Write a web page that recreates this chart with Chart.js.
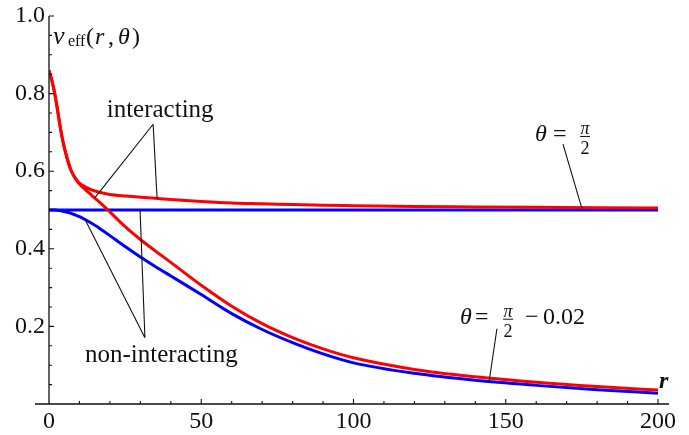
<!DOCTYPE html>
<html>
<head>
<meta charset="utf-8">
<script src="https://cdn.jsdelivr.net/npm/chart.js@4.4.1/dist/chart.umd.min.js"></script>
<style>
  html, body { margin: 0; padding: 0; background: #fff; }
  #wrap { width: 689px; height: 435px; }
</style>
</head>
<body>
<div id="wrap"><canvas id="c"></canvas></div>
<script>
const radii = [0, 1, 2, 3, 4, 5, 6, 7, 8, 9, 10, 12, 14, 16, 18, 20, 25, 30, 35, 40,
               50, 60, 70, 80, 90, 100, 120, 140, 160, 180, 200];
const interactingHalfPi = [0.86, 0.832, 0.795, 0.748, 0.70, 0.662, 0.632, 0.607, 0.59, 0.578, 0.569,
                           0.559, 0.552, 0.547, 0.543, 0.540, 0.536, 0.533, 0.530, 0.527,
                           0.522, 0.518, 0.516, 0.514, 0.512, 0.511, 0.509, 0.508, 0.507, 0.506, 0.505];
const interactingShifted = [0.86, 0.832, 0.795, 0.748, 0.70, 0.662, 0.632, 0.607, 0.59, 0.577, 0.567,
                            0.552, 0.538, 0.524, 0.51, 0.495, 0.457, 0.424, 0.394, 0.365,
                            0.306, 0.252, 0.207, 0.171, 0.142, 0.119, 0.089, 0.07, 0.056, 0.045, 0.036];
const freeShifted = [0.5, 0.5, 0.5, 0.499, 0.498, 0.496, 0.494, 0.492, 0.489, 0.486, 0.483,
                     0.475, 0.466, 0.456, 0.445, 0.434, 0.406, 0.379, 0.354, 0.33,
                     0.282, 0.233, 0.192, 0.158, 0.129, 0.106, 0.079, 0.061, 0.048, 0.037, 0.028];
const flatRadii = [0, 200];
const freeHalfPi = [0.5, 0.5];

const xTickValues = [0, 50, 100, 150, 200];
const yTickValues = [0.2, 0.4, 0.6, 0.8, 1.0];

const serif = '"Liberation Serif", "Times New Roman", serif';
const f = (style, size) => `${style} ${size}px ${serif}`;

function pts(xs, ys) {
  return xs.map((x, i) => ({ x: x, y: ys[i] }));
}

function line(data, color) {
  return {
    data: data,
    borderColor: color,
    borderWidth: 3,
    pointRadius: 0,
    fill: false,
    cubicInterpolationMode: 'monotone'
  };
}

// pointer lines from labels to curves, in data units
const pointers = [
  [[34.2, 0.721], [15.1, 0.532]],
  [[34.2, 0.721], [35.5, 0.529]],
  [[31.5, 0.171], [11.8, 0.476]],
  [[31.5, 0.171], [29.9, 0.501]],
  [[168.8, 0.670], [175.0, 0.504]],
  [[147.1, 0.194], [144.5, 0.056]]
];

function frac(ctx, cx, base) {
  ctx.font = f('italic', 18);
  ctx.textAlign = 'center';
  ctx.fillText('π', cx, base - 7);
  ctx.font = f('', 18);
  ctx.fillText('2', cx, base + 13);
  ctx.fillRect(cx - 5, base - 5, 10, 1);
  ctx.textAlign = 'left';
}

const overlay = {
  id: 'overlay',
  afterDraw(chart) {
    const ctx = chart.ctx, xs = chart.scales.x, ys = chart.scales.y;
    const X = v => xs.getPixelForValue(v), Y = v => ys.getPixelForValue(v);
    ctx.save();
    ctx.strokeStyle = '#111';
    ctx.fillStyle = '#111';
    ctx.lineWidth = 1.3;

    // axes, Mathematica style
    ctx.beginPath();
    ctx.moveTo(X(-4.6), Y(0)); ctx.lineTo(X(203.6), Y(0));
    ctx.moveTo(X(0), Y(0)); ctx.lineTo(X(0), Y(1));
    ctx.stroke();

    // inward ticks, minor every 10 / 0.05
    ctx.lineWidth = 1.1;
    ctx.beginPath();
    for (let r = 10; r <= 200; r += 10) {
      const len = r % 50 === 0 ? 5 : 3;
      ctx.moveTo(X(r), Y(0)); ctx.lineTo(X(r), Y(0) - len);
    }
    for (let i = 1; i <= 20; i++) {
      const len = i % 4 === 0 ? 5 : 3;
      ctx.moveTo(X(0), Y(i * 0.05)); ctx.lineTo(X(0) + len, Y(i * 0.05));
    }
    ctx.stroke();

    ctx.beginPath();
    pointers.forEach(p => {
      ctx.moveTo(X(p[0][0]), Y(p[0][1]));
      ctx.lineTo(X(p[1][0]), Y(p[1][1]));
    });
    ctx.stroke();

    ctx.textBaseline = 'alphabetic';
    ctx.textAlign = 'left';

    // axis label v_eff(r, θ)
    let x0 = X(1.3), y0 = Y(0.928);
    ctx.font = f('italic', 26); ctx.fillText('v', x0, y0);
    ctx.font = f('', 16); ctx.fillText('eff', x0 + 15, y0 + 2);
    ctx.font = f('', 24); ctx.fillText('(', x0 + 33, y0);
    ctx.font = f('italic', 24); ctx.fillText('r', x0 + 42, y0);
    ctx.font = f('', 24); ctx.fillText(',', x0 + 55, y0);
    ctx.font = f('italic', 24); ctx.fillText('θ', x0 + 65, y0);
    ctx.font = f('', 24); ctx.fillText(')', x0 + 79, y0);

    ctx.font = f('italic bold', 24);
    ctx.fillText('r', X(200.3), Y(0.041));

    ctx.font = f('', 25);
    ctx.textAlign = 'center';
    ctx.fillText('interacting', X(36.5), Y(0.739));
    ctx.fillText('non-interacting', X(36.9), Y(0.107));
    ctx.textAlign = 'left';

    // θ = π/2
    x0 = X(159.6); y0 = Y(0.678);
    ctx.font = f('italic', 24); ctx.fillText('θ', x0, y0);
    ctx.font = f('', 24); ctx.fillText('=', x0 + 18, y0);
    frac(ctx, x0 + 50, y0);

    // θ = π/2 − 0.02
    x0 = X(135); y0 = Y(0.207);
    ctx.font = f('italic', 24); ctx.fillText('θ', x0, y0);
    ctx.font = f('', 24); ctx.fillText('=', x0 + 15, y0);
    frac(ctx, x0 + 48, y0);
    ctx.font = f('', 24); ctx.fillText('−', x0 + 65, y0);
    ctx.fillText('0.02', x0 + 83, y0);

    ctx.restore();
  }
};

new Chart(document.getElementById('c'), {
  type: 'line',
  data: {
    datasets: [
      line(pts(radii, interactingHalfPi), 'rgb(255,0,0)'),
      line(pts(radii, interactingShifted), 'rgb(255,0,0)'),
      line(pts(flatRadii, freeHalfPi), 'rgb(0,0,255)'),
      line(pts(radii, freeShifted), 'rgb(0,0,255)')
    ]
  },
  options: {
    responsive: true,
    maintainAspectRatio: false,
    animation: false,
    layout: { padding: { left: 0, right: 31, top: 13, bottom: 0 } },
    plugins: { legend: { display: false }, tooltip: { enabled: false } },
    scales: {
      x: {
        type: 'linear', min: 0, max: 200,
        afterBuildTicks: s => { s.ticks = xTickValues.map(v => ({ value: v })); },
        afterFit: s => { s.height = 31; },
        grid: { display: false, drawTicks: false },
        border: { display: false },
        ticks: { color: '#111', padding: 6, maxRotation: 0, font: { family: serif, size: 24, lineHeight: 1 } }
      },
      y: {
        type: 'linear', min: 0, max: 1,
        afterBuildTicks: s => { s.ticks = yTickValues.map(v => ({ value: v })); },
        afterFit: s => { s.width = 49; },
        grid: { display: false, drawTicks: false },
        border: { display: false },
        ticks: { color: '#111', padding: 4, font: { family: serif, size: 24, lineHeight: 1 },
                 callback: v => v.toFixed(1) }
      }
    }
  },
  plugins: [overlay]
});
</script>
</body>
</html>
